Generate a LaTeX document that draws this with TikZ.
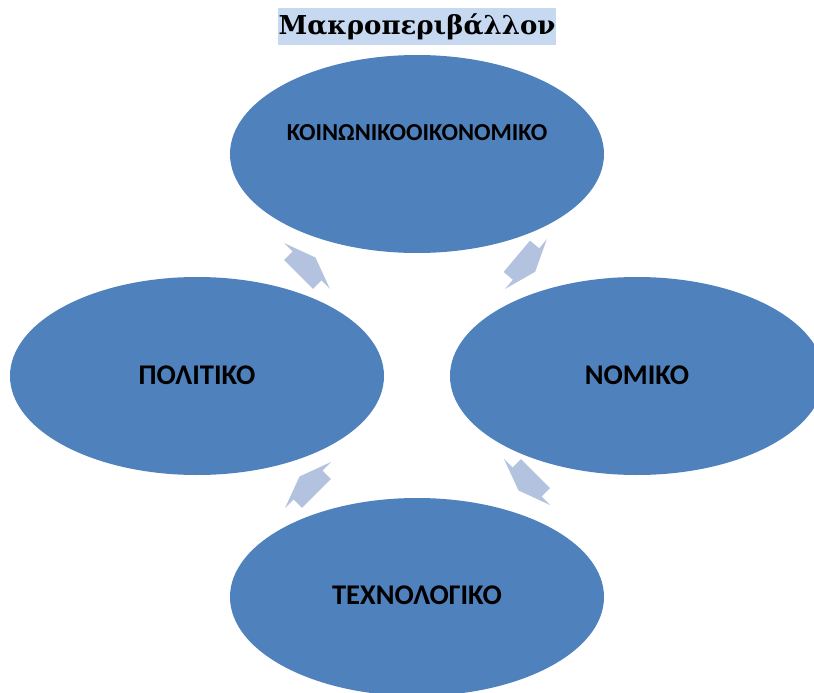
\documentclass[tikz,border=0pt]{standalone}
\usepackage{fontspec}
\setmainfont{Carlito}
\newfontfamily\titlefont{DejaVu Serif}
\usetikzlibrary{shapes.geometric}
\definecolor{ellblue}{HTML}{4F81BD}
\definecolor{arrblue}{HTML}{B3C3DF}
\definecolor{titlebg}{HTML}{C6D9F1}
\tikzset{
  ell/.style={ellipse, fill=ellblue, draw=none, minimum width=374pt, minimum height=198pt, inner sep=0pt},
  lbl/.style={font=\bfseries\fontsize{28.5}{32}\selectfont, text=black, inner sep=0pt},
  cyclearrow/.style={fill=arrblue, draw=none},
  titlebox/.style={fill=titlebg, inner sep=0pt, minimum width=278pt, minimum height=37pt, font=\titlefont\bfseries\fontsize{26}{30}\selectfont}
}
\begin{document}
\begin{tikzpicture}[x=1pt,y=1pt]
\useasboundingbox (0,0) rectangle (814,-693);
\clip (0,0) rectangle (814,-693);
\node[titlebox] (title) at (417,-26.5) {Μακροπεριβάλλον};
\node[ell] (top) at (417,-154) {};
\node[ell] (left) at (197,-376) {};
\node[ell] (right) at (637,-376) {};
\node[ell] (bottom) at (417,-597) {};
\node[lbl, font=\bfseries\fontsize{24.4}{28}\selectfont] (ttop) at (417,-133) {ΚΟΙΝΩΝΙΚΟΟΙΚΟΝΟΜΙΚΟ};
\node[lbl] (tleft) at (197,-375) {ΠΟΛΙΤΙΚΟ};
\node[lbl] (tright) at (637,-375) {ΝΟΜΙΚΟ};
\node[lbl] (tbottom) at (417,-595) {ΤΕΧΝΟΛΟΓΙΚΟ};
% block arrows (clockwise cycle)
\foreach \cx/\cy/\ang in {526/-264/-40, 527/-482/-135, 308/-485/135, 307/-266/45}{
  \fill[cyclearrow, shift={(\cx,\cy)}, rotate=\ang]
    (-12,-20.5) -- (0,-20.5) -- (0,-32.5) -- (12,0) -- (0,32.5) -- (0,20.5) -- (-12,20.5) -- cycle;
}
\end{tikzpicture}
\end{document}
